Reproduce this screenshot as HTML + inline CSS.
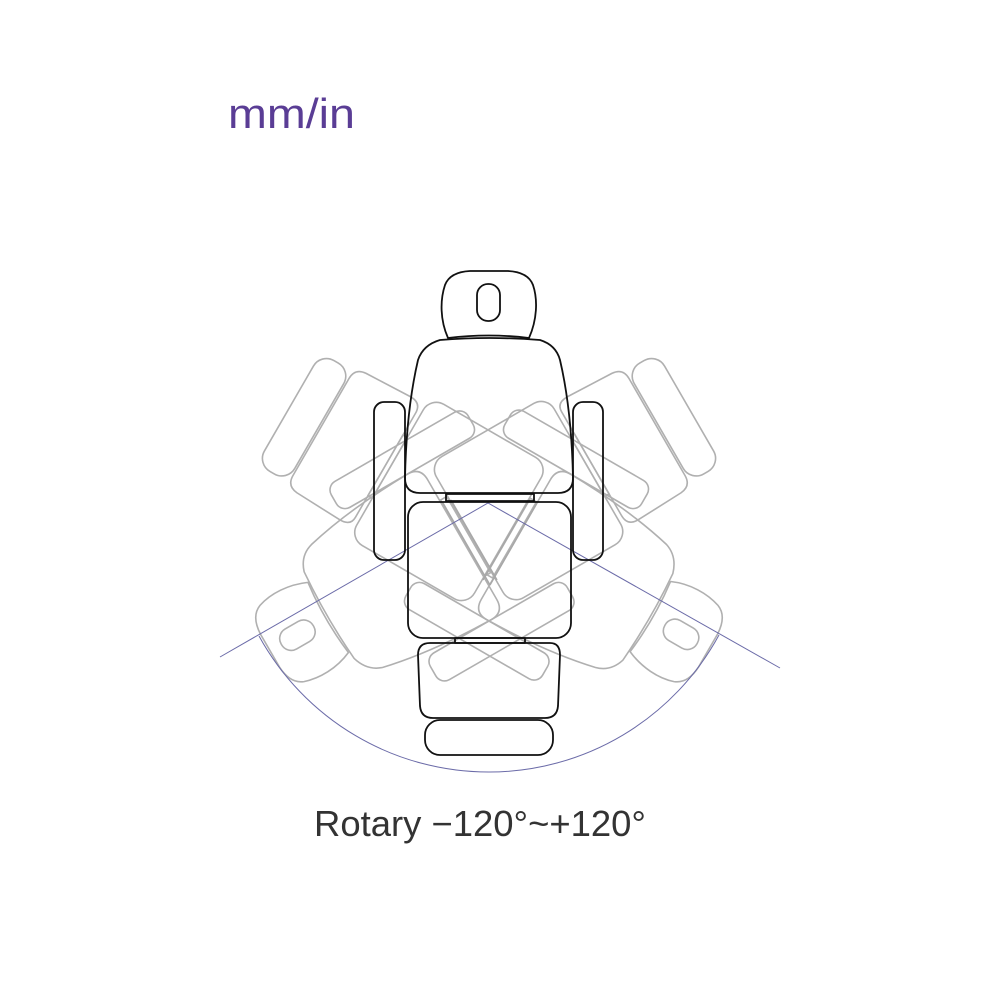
<!DOCTYPE html>
<html><head><meta charset="utf-8"><style>
html,body{margin:0;padding:0;background:#fff;width:1000px;height:1000px;overflow:hidden}
svg{position:absolute;left:0;top:0}
</style></head><body>
<svg width="1000" height="1000" viewBox="0 0 1000 1000" xmlns="http://www.w3.org/2000/svg">
<defs>
<g id="chair" fill="none" stroke-linejoin="round">
  <path d="M448,338 C440,320 440,300 445,285 Q450,272 470,271 L508,271 Q528,272 533,285 C538,300 537,320 529,338 Q489,333 448,338 Z"/>
  <rect x="477" y="284" width="23" height="37" rx="11"/>
  <path d="M440,340 Q489,336 540,340 Q556,345 560,360 C567,390 572,430 573,478 Q573,493 558,493 L420,493 Q405,493 405,478 C406,430 411,390 418,360 Q423,345 440,340 Z"/>
  <rect x="374" y="402" width="31" height="158" rx="10"/>
  <rect x="573" y="402" width="30" height="158" rx="10"/>
  <rect x="446" y="494" width="88" height="7"/>
  <rect x="408" y="502" width="163" height="136" rx="15"/>
  <rect x="455" y="638" width="70" height="5"/>
  <path d="M430,643 L550,643 Q560,643 560,655 L558,706 Q557,718 545,718 L433,718 Q421,718 420,706 L418,655 Q418,643 430,643 Z"/>
  <rect x="425" y="720" width="128" height="35" rx="15"/>
</g>
</defs>
<g stroke="#b0b0b0" stroke-width="1.6">
  <use href="#chair" transform="rotate(-120 489 524)"/>
  <use href="#chair" transform="rotate(120 489 524)"/>
</g>
<g stroke="#a8a8a8" stroke-width="1.5" fill="none">
  <path d="M443,503 L490,585 M451,500 L497,580"/>
  <path d="M537,503 L490,585 M529,500 L483,580"/>
</g>
<g stroke="#6b6ba8" stroke-width="1" fill="none">
  <path d="M220,657 L488,503 L780,668"/>
  <path d="M259,636 A262,262 0 0 0 719,635"/>
</g>
<g stroke="#111" stroke-width="1.8">
  <use href="#chair"/>
</g>
<text x="228" y="128" font-family="Liberation Sans, sans-serif" font-size="42" fill="#5a3d95" textLength="127" lengthAdjust="spacingAndGlyphs">mm/in</text>
<text x="314" y="836" font-family="Liberation Sans, sans-serif" font-size="36" fill="#333" textLength="332" lengthAdjust="spacingAndGlyphs">Rotary −120°~+120°</text>
</svg>
</body></html>
